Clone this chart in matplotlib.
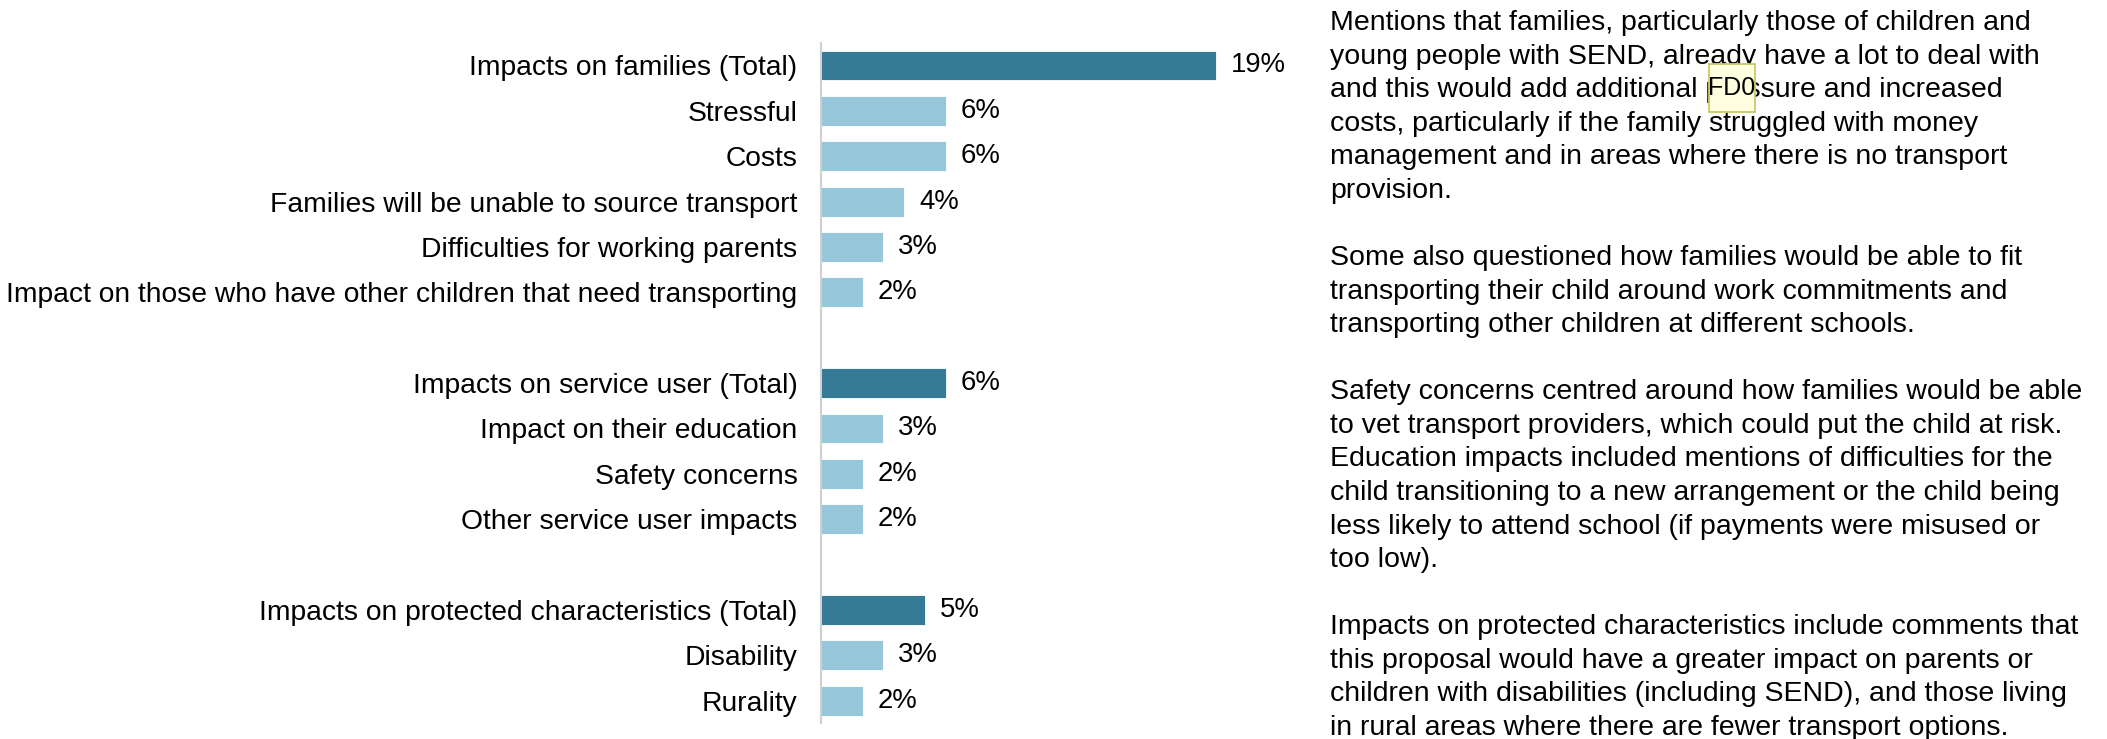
import matplotlib
matplotlib.use("Agg")
import matplotlib.pyplot as plt
from matplotlib.patches import Rectangle

# rows of the chart, None marks the blank spacer rows
labels = [
    "Impacts on families (Total)",
    "Stressful",
    "Costs",
    "Families will be unable to source transport",
    "Difficulties for working parents",
    "Impact on those who have other children that need transporting",
    None,
    "Impacts on service user (Total)",
    "Impact on their education",
    "Safety concerns",
    "Other service user impacts",
    None,
    "Impacts on protected characteristics (Total)",
    "Disability",
    "Rurality",
]
values = [19, 6, 6, 4, 3, 2, None, 6, 3, 2, 2, None, 5, 3, 2]
is_total = [True, False, False, False, False, False, None,
            True, False, False, False, None, True, False, False]

notes = [
    "Mentions that families, particularly those of children and",
    "young people with SEND, already have a lot to deal with",
    "and this would add additional pressure and increased",
    "costs, particularly if the family struggled with money",
    "management and in areas where there is no transport",
    "provision.",
    "",
    "Some also questioned how families would be able to fit",
    "transporting their child around work commitments and",
    "transporting other children at different schools.",
    "",
    "Safety concerns centred around how families would be able",
    "to vet transport providers, which could put the child at risk.",
    "Education impacts included mentions of difficulties for the",
    "child transitioning to a new arrangement or the child being",
    "less likely to attend school (if payments were misused or",
    "too low).",
    "",
    "Impacts on protected characteristics include comments that",
    "this proposal would have a greater impact on parents or",
    "children with disabilities (including SEND), and those living",
    "in rural areas where there are fewer transport options.",
]

dark = "#367b96"
light = "#96c7da"

plt.rcParams["font.family"] = ["Liberation Sans", "DejaVu Sans"]

W, H = 2107, 739
fig = plt.figure(figsize=(W / 100, H / 100), dpi=100)

ax_left = 821 / W
ax_w = 25 * 20.8 / W
ax_bot = (H - 723.4) / H
ax_h = 680.6 / H
ax = fig.add_axes([ax_left, ax_bot, ax_w, ax_h])

rows = [i for i, v in enumerate(values) if v is not None]
bar_vals = [values[i] for i in rows]
bar_cols = [dark if is_total[i] else light for i in rows]
ax.barh(rows, bar_vals, height=0.66, color=bar_cols, edgecolor="white", linewidth=0.6)

for i in rows:
    ax.text(values[i] + 0.72, i, f"{values[i]}%", va="center", ha="left", fontsize=19.8, color="black")

ax.set_yticks(rows)
ax.set_yticklabels([labels[i] for i in rows], fontsize=20.35)
ax.tick_params(axis="y", length=0, pad=17)
ax.set_xticks([])
ax.set_xlim(0, 25)
ax.set_ylim(14.5, -0.5)
for s in ["top", "right", "bottom"]:
    ax.spines[s].set_visible(False)
ax.spines["left"].set_color("#d0d0d0")
ax.spines["left"].set_linewidth(1.5)

# commentary text on the right
for k, line in enumerate(notes):
    y = 30 + k * 33.57
    fig.text(1330 / W, 1 - y / H, line, ha="left", va="baseline", fontsize=20.5)

# review comment marker overlay
box = Rectangle((1709 / W, 1 - 112 / H), 46 / W, 48 / H, transform=fig.transFigure,
                facecolor="#ffffe0", edgecolor="#c8c864", linewidth=1.3, zorder=5)
fig.patches.append(box)
fig.text(1732 / W, 1 - 88 / H, "FD0", ha="center", va="center", fontsize=18, zorder=6)

fig.savefig("out.png", dpi=100)
